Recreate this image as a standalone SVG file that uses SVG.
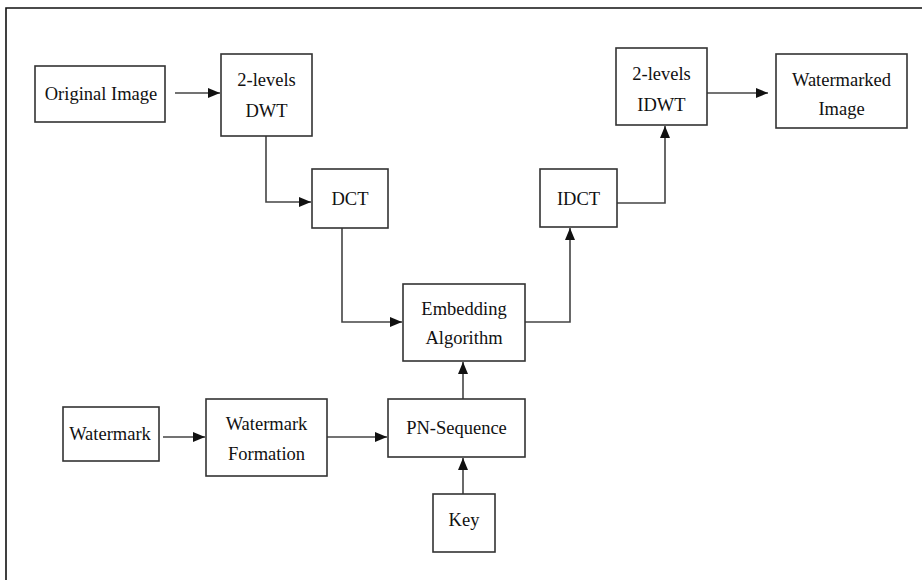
<svg xmlns="http://www.w3.org/2000/svg" width="922" height="580" viewBox="0 0 922 580">
<defs>
<marker id="ah" viewBox="0 0 12 10" refX="12" refY="5" markerWidth="12" markerHeight="10" markerUnits="userSpaceOnUse" orient="auto">
<path d="M0,0 L12,5 L0,10 z" fill="#111"/>
</marker>
<style>
.box{fill:#fff;stroke:#333;stroke-width:1.6}
.t{font-size:18.5px;fill:#111;text-anchor:middle}
.c{fill:none;stroke:#444;stroke-width:1.6;marker-end:url(#ah)}
</style>
</defs>
<rect width="922" height="580" fill="#fff"/>
<path d="M6,580 V8 H922" fill="none" stroke="#111" stroke-width="1.6"/>
<g id="connectors">
<path class="c" d="M175,93 H220"/>
<path class="c" d="M266,136 V202 H311"/>
<path class="c" d="M342,228 V322 H402"/>
<path class="c" d="M525,322 H570 V228"/>
<path class="c" d="M617,203 H665 V126"/>
<path class="c" d="M707,93 H768"/>
<path class="c" d="M163,437 H205"/>
<path class="c" d="M327,437 H387"/>
<path class="c" d="M463,399 V362"/>
<path class="c" d="M463,494 V458"/>
</g>
<g font-family="'Liberation Serif', 'DejaVu Serif', serif">
<g id="original-image"><rect class="box" x="35" y="66" width="130" height="56"/><text class="t" x="101" y="100">Original Image</text></g>
<g id="dwt"><rect class="box" x="221" y="54" width="91" height="82"/><text class="t" x="266.5" y="86">2-levels</text><text class="t" x="266.5" y="117">DWT</text></g>
<g id="dct"><rect class="box" x="312" y="169" width="76" height="59"/><text class="t" x="350" y="205">DCT</text></g>
<g id="embedding"><rect class="box" x="403" y="284" width="122" height="77"/><text class="t" x="464" y="315">Embedding</text><text class="t" x="464" y="344">Algorithm</text></g>
<g id="idct"><rect class="box" x="540" y="169" width="77" height="58"/><text class="t" x="578.5" y="205">IDCT</text></g>
<g id="idwt"><rect class="box" x="616" y="48" width="91" height="77"/><text class="t" x="661.5" y="80">2-levels</text><text class="t" x="661.5" y="111">IDWT</text></g>
<g id="watermarked-image"><rect class="box" x="776" y="54" width="131" height="74"/><text class="t" x="841.5" y="86">Watermarked</text><text class="t" x="841.5" y="115">Image</text></g>
<g id="watermark"><rect class="box" x="63" y="407" width="96" height="54"/><text class="t" x="110" y="440">Watermark</text></g>
<g id="watermark-formation"><rect class="box" x="206" y="399" width="121" height="77"/><text class="t" x="266.5" y="430">Watermark</text><text class="t" x="266.5" y="460">Formation</text></g>
<g id="pn-sequence"><rect class="box" x="388" y="399" width="137" height="58"/><text class="t" x="456.5" y="434">PN-Sequence</text></g>
<g id="key"><rect class="box" x="433" y="494" width="62" height="58"/><text class="t" x="464" y="526">Key</text></g>
</g>
</svg>
